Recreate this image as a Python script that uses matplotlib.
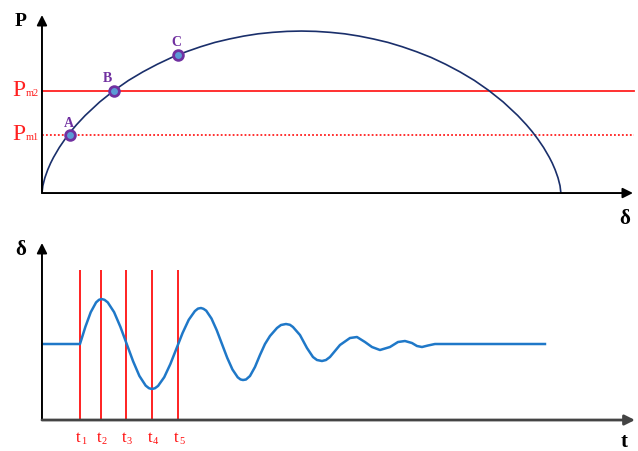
import numpy as np
import matplotlib
matplotlib.use('Agg')
import matplotlib.pyplot as plt

plt.rcParams['font.family'] = ['Liberation Serif', 'DejaVu Serif']

# 功角特性曲线 P-δ (δ 单位: 度, P 标幺值)
delta_curve = [0, 0.3, 1, 2, 3, 4, 6, 8, 10, 12, 15, 20, 25, 30, 35, 40, 45, 50, 55, 60,
               65, 70, 75, 80, 85, 90, 95, 100, 105, 110, 115, 120, 125, 130, 135, 140,
               145, 150, 155, 160, 165, 168, 170, 172, 174, 176, 177, 178, 179, 179.7, 180]
p_curve = [0, 0.045, 0.094, 0.144, 0.185, 0.220, 0.281, 0.333, 0.380, 0.422, 0.479,
           0.562, 0.633, 0.695, 0.748, 0.795, 0.837, 0.872, 0.903, 0.930, 0.951, 0.969,
           0.983, 0.992, 0.998, 1.0, 0.998, 0.992, 0.983, 0.969, 0.951, 0.930, 0.903,
           0.872, 0.837, 0.795, 0.748, 0.695, 0.633, 0.562, 0.479, 0.422, 0.380, 0.333,
           0.281, 0.220, 0.185, 0.144, 0.094, 0.045, 0]
pm1 = 0.356
pm2 = 0.631
pt_names = ['A', 'B', 'C']
pt_delta = [9.7, 25.1, 47.3]
pt_p = [0.356, 0.631, 0.855]

# 摇摆曲线 δ-t
t_curve = [0.01, 0.38, 0.434, 0.4875, 0.541, 0.57, 0.595, 0.625, 0.658, 0.721, 0.784,
           0.8475, 0.911, 0.974, 1.037, 1.07, 1.10, 1.13, 1.161, 1.2225, 1.284, 1.345,
           1.406, 1.4675, 1.529, 1.56, 1.59, 1.615, 1.6425, 1.695, 1.7475, 1.80, 1.8525,
           1.905, 1.9575, 1.985, 2.01, 2.04, 2.08, 2.13, 2.18, 2.23, 2.28, 2.35, 2.39,
           2.44, 2.48, 2.51, 2.58, 2.65, 2.71, 2.75, 2.80, 2.84, 2.88, 2.98, 3.08, 3.15,
           3.23, 3.30, 3.38, 3.48, 3.56, 3.63, 3.70, 3.75, 3.80, 3.86, 3.93, 5.03]
d_curve = [38.0, 38.0, 46.6, 53.9, 58.8, 60.1, 60.5, 60.1, 58.8, 53.95, 46.6, 38.0, 29.4,
           22.05, 17.2, 15.9, 15.5, 15.9, 17.05, 21.4, 28.0, 35.75, 43.5, 50.1, 54.45, 55.7,
           56.0, 55.6, 54.65, 50.75, 44.9, 38.0, 31.1, 25.25, 21.35, 20.3, 20.0, 20.25, 22.0,
           26.5, 32.5, 38.0, 42.0, 46.0, 47.5, 48.0, 47.6, 46.5, 42.5, 36.0, 31.5, 30.0,
           29.5, 30.0, 31.5, 37.5, 41.0, 41.5, 39.0, 36.5, 35.0, 36.5, 39.0, 39.5, 38.5,
           37.0, 36.5, 37.25, 38.0, 38.0]
t_marks = [0.38, 0.59, 0.84, 1.10, 1.36]
t_names = ['1', '2', '3', '4', '5']

fig = plt.figure(figsize=(6.38, 4.51), dpi=100)

# ---- 上图 ----
ax1 = fig.add_axes([0.0658, 0.572, 0.9263, 0.3947])
ax1.set_xlim(0, 205)
ax1.set_ylim(0, 1.099)
ax1.axis('off')

arrow = dict(arrowstyle='-|>', color='black', lw=1.4, mutation_scale=15, shrinkA=0, shrinkB=0)
ax1.annotate('', xy=(0, 1.099), xytext=(0, 0), arrowprops=arrow, annotation_clip=False)
ax1.annotate('', xy=(205, 0), xytext=(0, 0), arrowprops=arrow, annotation_clip=False)

ax1.plot([0, 205.5], [pm2, pm2], color='#ff2020', lw=1.3, clip_on=False)
ax1.plot([0, 205.5], [pm1, pm1], color='#ff2020', lw=1.3, ls=(0, (1, 1.2)), clip_on=False)
ax1.plot(delta_curve, p_curve, color='#1a2f6b', lw=1.2)
ax1.plot(pt_delta, pt_p, 'o', ms=7, mfc='#5b9bd5', mec='#7030a0', mew=2, zorder=5)
for name, d, p, dx in zip(pt_names, pt_delta, pt_p, [-0.5, -2.3, -0.8]):
    ax1.text(d + dx, p + 0.035, name, color='#7030a0', fontsize=10, fontweight='bold',
             ha='center', va='bottom')

ax1.text(-7.5, 1.06, 'P', fontsize=14, fontweight='bold', ha='center', va='center')
ax1.text(202, -0.16, 'δ', fontsize=15, fontweight='bold', ha='center', va='center')
for val, sub in [(pm2, 'm2'), (pm1, 'm1')]:
    ax1.text(-5.6, val - 0.03, 'P', color='#ff2020', fontsize=17, ha='right', va='baseline')
    ax1.text(-5.6, val - 0.03, sub, color='#ff2020', fontsize=7.5, ha='left', va='baseline')

# ---- 下图 ----
ax2 = fig.add_axes([0.0658, 0.0687, 0.9263, 0.3925])
ax2.set_xlim(0, 5.91)
ax2.set_ylim(0, 88.5)
ax2.axis('off')

arrow2 = dict(arrowstyle='-|>', color='#444444', lw=2, mutation_scale=15, shrinkA=0, shrinkB=0)
ax2.annotate('', xy=(0, 88.5), xytext=(0, 0), arrowprops=dict(arrow2, color='black', lw=1.4),
             annotation_clip=False)
ax2.annotate('', xy=(5.93, 0), xytext=(0, 0), arrowprops=arrow2, annotation_clip=False)

ax2.vlines(t_marks, 0, 75, color='#ff1010', lw=1.3)
ax2.plot(t_curve, d_curve, color='#1f78c8', lw=1.8)
for t, n in zip(t_marks, t_names):
    ax2.text(t + 0.01, -5, 't', color='#ff1010', fontsize=12, ha='right', va='top')
    ax2.text(t + 0.01, -8.5, n, color='#ff1010', fontsize=7.5, ha='left', va='top')

ax2.text(-0.21, 85, 'δ', fontsize=15, fontweight='bold', ha='center', va='center')
ax2.text(5.82, -11, 't', fontsize=15, fontweight='bold', ha='center', va='center')

fig.savefig('out.png', dpi=100)
